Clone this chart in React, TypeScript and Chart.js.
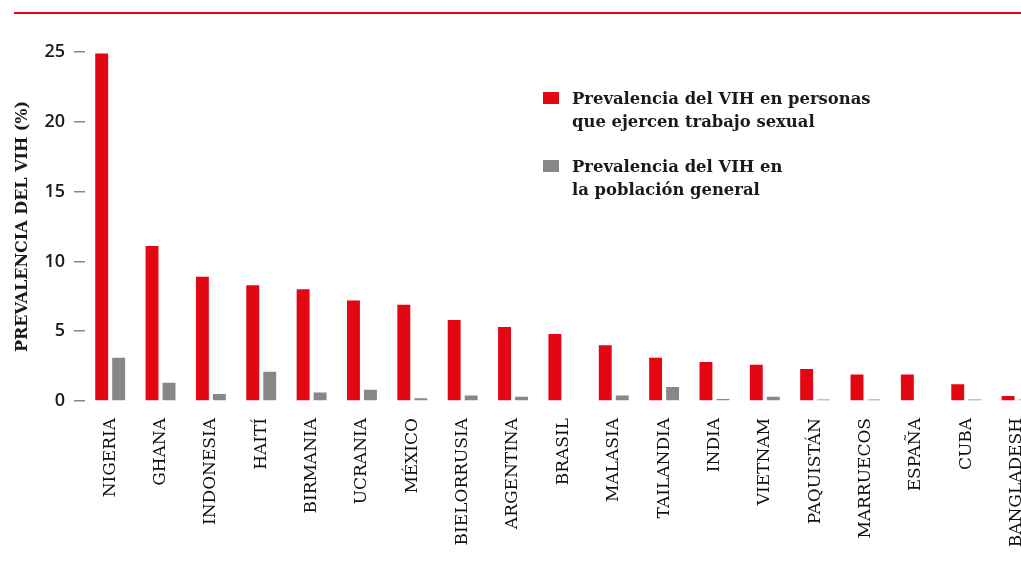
import React, { useEffect, useRef } from "react";
import { Chart, registerables } from "chart.js";

Chart.register(...registerables);

const categories = [
  "NIGERIA", "GHANA", "INDONESIA", "HAITÍ", "BIRMANIA", "UCRANIA", "MÉXICO",
  "BIELORRUSIA", "ARGENTINA", "BRASIL", "MALASIA", "TAILANDIA", "INDIA",
  "VIETNAM", "PAQUISTÁN", "MARRUECOS", "ESPAÑA", "CUBA", "BANGLADESH",
];

const sexWorkers = [
  24.9, 11.1, 8.9, 8.3, 8.0, 7.2, 6.9, 5.8, 5.3, 4.8, 4.0, 3.1, 2.8, 2.6, 2.3,
  1.9, 1.9, 1.2, 0.35,
];

const generalPopulation = [
  3.1, 1.3, 0.5, 2.1, 0.6, 0.8, 0.2, 0.4, 0.3, 0, 0.4, 1.0, 0.15, 0.3, 0.1,
  0.1, 0, 0.1, 0.1,
];

const yTicks = [0, 5, 10, 15, 20, 25];

const seriesLabels = [
  "Prevalencia del VIH en personas que ejercen trabajo sexual",
  "Prevalencia del VIH en la población general",
];

const legendLines = [
  ["Prevalencia del VIH en personas", "que ejercen trabajo sexual"],
  ["Prevalencia del VIH en", "la población general"],
];

const yTitle = "PREVALENCIA DEL VIH (%)";

const RED = "#e30613";
const GRAY = "#878787";
const TEXT = "#1a1a1a";

const decorPlugin = {
  id: "decor",
  afterDraw(chart: any) {
    const ctx = chart.ctx;
    ctx.save();
    // top rule
    ctx.fillStyle = RED;
    ctx.fillRect(14, 12, chart.width - 14, 2);
    // legend
    const colors = chart.data.datasets.map((d: any) => d.backgroundColor);
    const boxX = 543;
    const textX = 572;
    const tops = [104, 172];
    ctx.font = "bold 16.4px 'DejaVu Serif'";
    ctx.textBaseline = "alphabetic";
    ctx.textAlign = "left";
    legendLines.forEach((lines, i) => {
      ctx.fillStyle = colors[i];
      ctx.fillRect(boxX, tops[i] - 12, 16, 12);
      ctx.fillStyle = TEXT;
      lines.forEach((ln, j) => {
        ctx.fillText(ln, textX, tops[i] + j * 23);
      });
    });
    ctx.restore();
  },
};

export default function App() {
  const ref = useRef<HTMLCanvasElement>(null);

  useEffect(() => {
    if (!ref.current) return;
    const chart = new Chart(ref.current, {
      type: "bar",
      data: {
        labels: categories,
        datasets: [
          {
            label: seriesLabels[0],
            data: sexWorkers,
            backgroundColor: RED,
            barPercentage: 0.76,
            categoryPercentage: 0.675,
          },
          {
            label: seriesLabels[1],
            data: generalPopulation,
            backgroundColor: GRAY,
            barPercentage: 0.76,
            categoryPercentage: 0.675,
          },
        ],
      },
      options: {
        animation: false,
        responsive: false,
        layout: { padding: { top: 52, right: 1, left: 0, bottom: 0 } },
        plugins: {
          legend: { display: false },
          tooltip: { enabled: false },
        },
        scales: {
          x: {
            offset: true,
            grid: { display: false, drawTicks: false },
            border: { display: false },
            ticks: {
              autoSkip: false,
              maxRotation: 90,
              minRotation: 90,
              padding: 17,
              color: "#111",
              font: { family: "'DejaVu Serif'", size: 17 },
            },
            afterFit(scale: any) {
              scale.height = 174;
            },
          },
          y: {
            min: 0,
            max: 25,
            afterBuildTicks(scale: any) {
              scale.ticks = yTicks.map((v) => ({ value: v }));
            },
            grid: {
              drawOnChartArea: false,
              drawTicks: true,
              tickLength: 11,
              color: GRAY,
              lineWidth: 1.5,
            },
            border: { display: false },
            ticks: {
              padding: 9,
              color: TEXT,
              font: { family: "'Open Sans'", size: 18, weight: 600 },
            },
            title: {
              display: true,
              text: yTitle,
              color: TEXT,
              padding: { top: 13, bottom: 0 },
              font: { family: "'DejaVu Serif'", size: 16, weight: "bold" },
            },
            afterFit(scale: any) {
              scale.width = 85;
            },
          },
        },
      },
      plugins: [decorPlugin],
    });
    return () => chart.destroy();
  }, []);

  return (
    <div
      style={{
        position: "absolute",
        left: 0,
        top: 0,
        width: 1021,
        height: 575,
        overflow: "hidden",
        background: "#fff",
      }}
    >
      <canvas ref={ref} width={1054} height={575} style={{ display: "block" }} />
    </div>
  );
}
